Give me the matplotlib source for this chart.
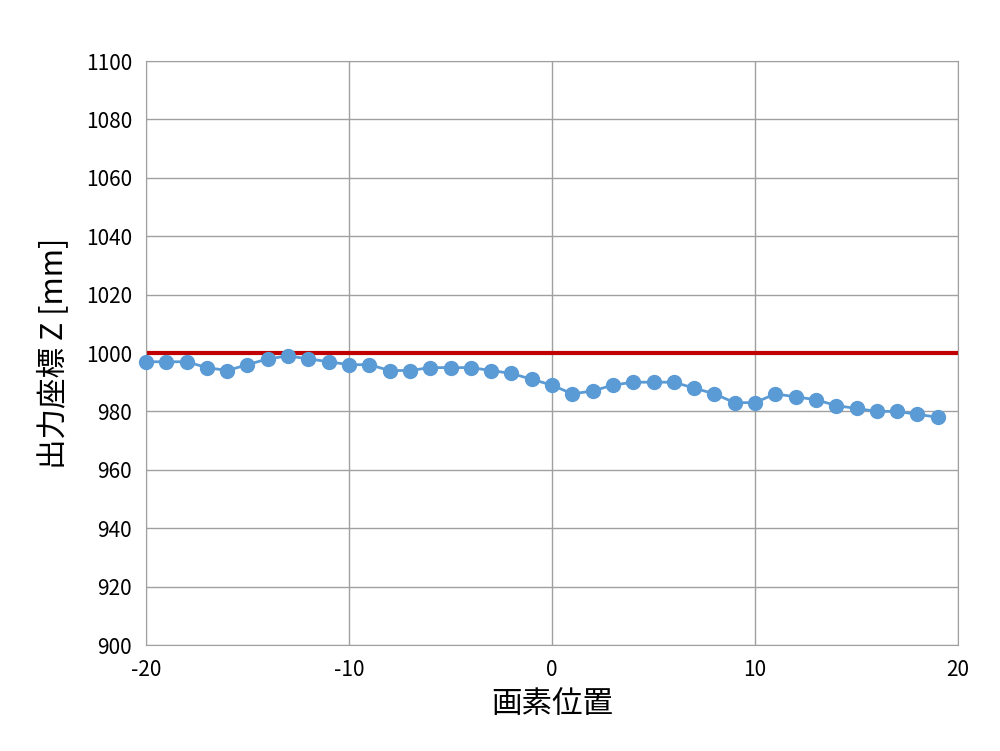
import matplotlib
matplotlib.use("Agg")
import matplotlib.pyplot as plt

plt.rcParams['font.family'] = ['Noto Sans CJK JP', 'DejaVu Sans']
plt.rcParams['axes.unicode_minus'] = False

pixel_pos = list(range(-20, 20))
z_out = [997, 997, 997, 995, 994, 996, 998, 999, 998, 997,
         996, 996, 994, 994, 995, 995, 995, 994, 993, 991,
         989, 986, 987, 989, 990, 990, 990, 988, 986, 983,
         983, 986, 985, 984, 982, 981, 980, 980, 979, 978]
ref_x = [-20, 20]
ref_z = [1000, 1000]

fig = plt.figure(figsize=(10, 7.51), dpi=100)
ax = fig.add_axes([0.146, 1 - 645 / 751, 0.812, 584 / 751])
ax.plot(ref_x, ref_z, color='#c00000', lw=3, zorder=2)
ax.plot(pixel_pos, z_out, color='#5b9bd5', marker='o', ms=10, lw=2,
        zorder=3, clip_on=False)
ax.set_xlim(-20, 20)
ax.set_ylim(900, 1100)
ax.set_xticks(range(-20, 21, 10))
ax.set_yticks(range(900, 1101, 20))
ax.grid(True, color='#a0a0a0', lw=1)
for s in ax.spines.values():
    s.set_color('#a0a0a0')
ax.tick_params(length=0, labelsize=15, pad=10)
ax.set_xlabel('画素位置', fontsize=22, labelpad=6)
ax.set_ylabel('出力座標 Z [mm]', fontsize=22, labelpad=12)
fig.savefig('out.png')
